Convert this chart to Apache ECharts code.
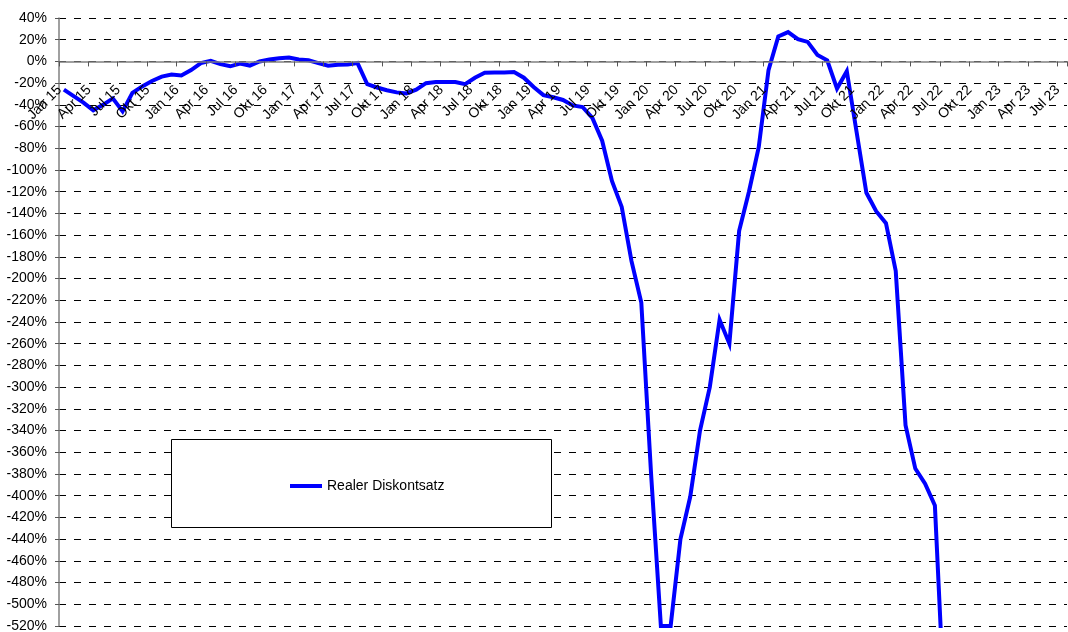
<!DOCTYPE html>
<html>
<head>
<meta charset="utf-8">
<script src="https://cdn.jsdelivr.net/npm/echarts@6/dist/echarts.min.js"></script>
<style>
html,body{margin:0;padding:0;background:#fff;}
#chart{width:1068px;height:632px;}
</style>
</head>
<body>
<div id="chart"></div>
<script>
// Month labels (German) and years
const monthNames = ['Jan','Feb','Mär','Apr','Mai','Jun','Jul','Aug','Sep','Okt','Nov','Dez'];
const years = ['15','16','17','18','19','20','21','22','23'];
const categories = [];
years.forEach(function(y){ monthNames.forEach(function(m){ categories.push(m + ' ' + y); }); });
categories.length = 103; // Jan 15 .. Jul 23

// Realer Diskontsatz (%), monthly from Jan 15
const realerDiskontsatz = [
  -26, -32, -38, -45, -40, -34, -46, -29, -23, -18, -14, -12,
  -13, -8, -1.5, 0.5, -2.5, -4.5, -2, -3.8, 0, 1.8, 3, 3.6,
  1.8, 1, -1.5, -4, -3, -2.8, -1.5, -21, -24, -26.5, -28.5, -29.5,
  -26, -20, -19, -19, -19, -21, -15, -10.5, -10.2, -10.3, -9.7, -15,
  -23.5, -31, -33, -35.5, -40.5, -42, -52, -73, -110, -134, -184, -222,
  -380, -520, -520, -440, -401, -340, -300, -238, -260, -156, -120, -79,
  -8, 23, 27, 20.5, 18, 6, 1, -25, -9, -65, -121, -138,
  -149, -193, -335, -375, -389, -409, -600
];
while (realerDiskontsatz.length < categories.length) realerDiskontsatz.push(null);

const yMin = -520, yMax = 40, yStep = 20;

const W = 1068, H = 632;
const gridLeft = 59, gridRight = 1, gridTop = 18, gridBottom = 6;
const plotH = H - gridTop - gridBottom;
const zeroOffset = -(plotH * (0 - yMin) / (yMax - yMin));

const chart = echarts.init(document.getElementById('chart'), null, {renderer: 'canvas'});
const font = 'Liberation Sans, Arial, sans-serif';
chart.setOption({
  animation: false,
  backgroundColor: '#fff',
  grid: {left: gridLeft, right: gridRight, top: gridTop, bottom: gridBottom,
         containLabel: false, outerBoundsMode: 'none'},
  xAxis: {
    type: 'category',
    data: categories,
    boundaryGap: true,
    position: 'bottom',
    offset: zeroOffset,
    z: 5,
    axisLine: {show: true, onZero: false, lineStyle: {color: '#808080', width: 1.5}},
    axisTick: {show: true, interval: 2, length: 5, lineStyle: {color: '#555', width: 1}},
    axisLabel: {interval: 2, rotate: 45, margin: 22, padding: [0, 6, 0, 0],
      color: '#000', fontSize: 14, fontFamily: font},
    splitLine: {show: false}
  },
  yAxis: {
    type: 'value',
    min: yMin, max: yMax, interval: yStep,
    axisLine: {show: true, lineStyle: {color: '#808080', width: 1.5}},
    axisTick: {show: true, length: 4, lineStyle: {color: '#555'}},
    axisLabel: {margin: 12, color: '#000', fontSize: 14, fontFamily: font,
      formatter: function(v){ return v + '%'; }},
    splitLine: {show: true, lineStyle: {color: '#000', width: 1, type: [7, 8]}}
  },
  graphic: [{
    type: 'rect', z: 50,
    shape: {x: 171.5, y: 439.5, width: 380, height: 88},
    style: {fill: '#fff', stroke: '#000', lineWidth: 1}
  }],
  legend: {
    z: 60,
    left: 285, top: 474,
    icon: 'rect', itemWidth: 32, itemHeight: 4,
    textStyle: {color: '#000', fontSize: 14, fontFamily: font},
    data: ['Realer Diskontsatz']
  },
  series: [{
    name: 'Realer Diskontsatz',
    type: 'line',
    data: realerDiskontsatz,
    showSymbol: false, symbol: 'none',
    clip: true,
    itemStyle: {color: '#0000FF'},
    lineStyle: {color: '#0000FF', width: 4, join: 'miter'},
    z: 3
  }]
});
</script>
</body>
</html>
